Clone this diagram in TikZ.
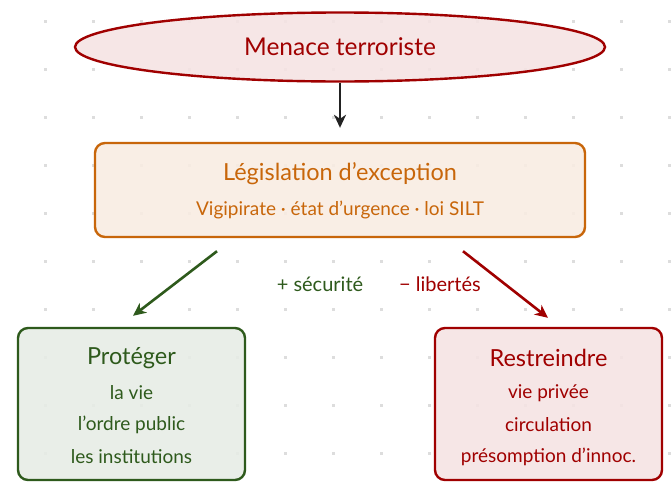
\documentclass[tikz,border=0pt]{standalone}
\usepackage{fontspec}
\setmainfont{Lato}
\usetikzlibrary{arrows.meta,shapes.geometric}
\definecolor{dred}{HTML}{A00000}
\definecolor{pinkfill}{HTML}{F5E3E3}
\definecolor{orng}{HTML}{C8660A}
\definecolor{orngfill}{HTML}{F9ECE2}
\definecolor{dgreen}{HTML}{2E5A1C}
\definecolor{greenfill}{HTML}{E7ECE5}
\definecolor{arrblack}{HTML}{222222}
\definecolor{dotc}{HTML}{DDDDDD}
\begin{document}
\begin{tikzpicture}[x=1pt,y=-1pt,
  boxstyle/.style={rounded corners=10pt, line width=2.4pt, fill opacity=0.88, text opacity=1},
  arr/.style={line width=2.6pt, -{Stealth[length=13pt,width=12pt,inset=4pt]}},
  titlefont/.style={font=\fontsize{23.5}{27}\selectfont},
  itemfont/.style={font=\fontsize{19}{22}\selectfont}]
\fill[white] (0,0) rectangle (671,482);
\useasboundingbox (0,0) rectangle (671,482);
\foreach \i in {0,...,13}{\foreach \j in {0,...,9}{
  \fill[dotc] (45+48*\i-1.5, 21+48*\j-1.5) rectangle ++(3,3);}}
% top ellipse
\node[ellipse, draw=dred, line width=2.4pt, fill=pinkfill, fill opacity=0.88, text opacity=1,
  minimum width=530pt, minimum height=69pt, inner sep=0pt,
  text=dred, font=\fontsize{24.5}{28}\selectfont] (menace) at (340,47) {Menace terroriste};
% legislation box
\node[boxstyle, draw=orng, fill=orngfill, minimum width=490pt, minimum height=94pt] (legis) at (340,190) {};
\node[text=orng, font=\fontsize{23.5}{27}\selectfont] (legist) at (340,174) {Législation d’exception};
\node[text=orng, itemfont] (legiss) at (340,210) {Vigipirate · état d’urgence · loi SILT};
% bottom boxes
\node[boxstyle, draw=dgreen, fill=greenfill, minimum width=227pt, minimum height=152pt] (prot) at (131.5,404) {};
\node[boxstyle, draw=dred, fill=pinkfill, minimum width=227pt, minimum height=152pt] (restr) at (548.5,404) {};
\node[text=dgreen, titlefont] (pt) at (131.5,358) {Protéger};
\node[text=dgreen, itemfont] (p1) at (131.5,393) {la vie};
\node[text=dgreen, itemfont] (p2) at (131.5,425) {l’ordre public};
\node[text=dgreen, itemfont] (p3) at (131.5,457) {les institutions};
\node[text=dred, titlefont] (rt) at (548.5,358) {Restreindre};
\node[text=dred, itemfont] (r1) at (548.5,393) {vie privée};
\node[text=dred, itemfont] (r2) at (548.5,425) {circulation};
\node[text=dred, itemfont] (r3) at (548.5,457) {présomption d’innoc.};
% connectors
\draw[arr, arrblack, shorten >=14pt] (menace.south) -- (legis.north);
\draw[arr, dgreen] ([xshift=-123pt,yshift=-13pt]legis.south) -- ([xshift=1.5pt,yshift=11pt]prot.north);
\draw[arr, dred] ([xshift=123pt,yshift=-13pt]legis.south) -- ([xshift=-0.5pt,yshift=9pt]restr.north);
% labels
\node[text=dgreen, font=\fontsize{20}{24}\selectfont] (lsec) at (320,284) {+ sécurité};
\node[text=dred, font=\fontsize{20}{24}\selectfont] (llib) at (440,284) {− libertés};
\end{tikzpicture}
\end{document}
